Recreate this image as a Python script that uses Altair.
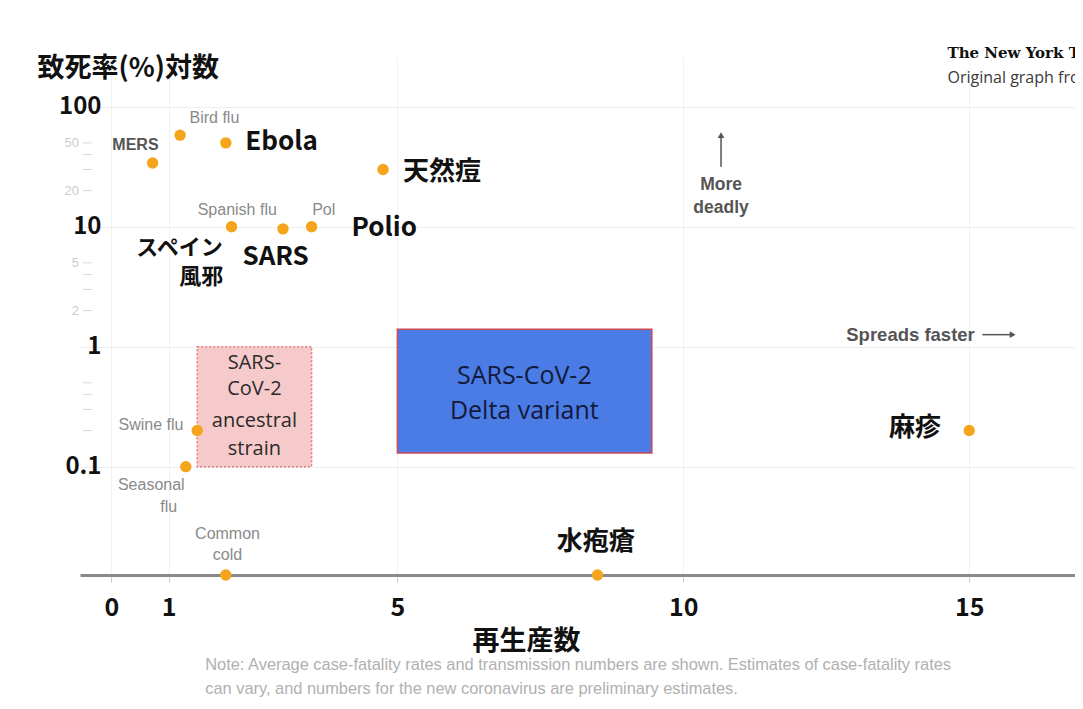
import altair as alt
import pandas as pd

# ---- data ----
diseases = ["MERS", "Bird flu", "Ebola", "Smallpox", "Spanish flu", "SARS", "Polio",
            "Swine flu", "Seasonal flu", "Common cold", "Chickenpox", "Measles"]
r0 = [0.72, 1.2, 2.0, 4.75, 2.1, 3.0, 3.5, 1.5, 1.3, 2.0, 8.5, 15.0]
cfr = [34, 58, 50, 30, 10, 9.6, 10, 0.2, 0.1, 0.0125, 0.0125, 0.2]

box_names = ["ancestral", "delta"]
box_r0_lo = [1.5, 5.0]
box_r0_hi = [3.5, 9.45]
box_cfr_lo = [0.1, 0.13]
box_cfr_hi = [1.0, 1.4]

x_ticks = [0, 1, 5, 10, 15]
y_major = [100, 10, 1, 0.1]
y_minor = [50, 40, 30, 20, 5, 4, 3, 2, 0.5, 0.4, 0.3, 0.2]
y_minor_labels = [50, 20, 5, 2]

X_DOMAIN = [-0.55, 16.85]
Y_DOMAIN = [0.0125, 260]

xs = alt.Scale(domain=X_DOMAIN, nice=False, zero=False)
ys = alt.Scale(type="log", domain=Y_DOMAIN, nice=False)

AX = alt.Axis(
    values=x_ticks, title="再生産数", titleFont="Noto Sans CJK JP", titleFontSize=27,
    titleFontWeight="bold", titleColor="#111", titleX=446, titleY=66, titleBaseline="middle",
    labelFont="Noto Sans CJK JP", labelFontSize=25, labelFontWeight="bold", labelColor="#111",
    labelPadding=13, tickSize=7, tickColor="#cccccc", tickWidth=1,
    domain=True, domainColor="#8a8a8a", domainWidth=3,
    grid=True, gridColor="#f2f2f2")
AY = alt.Axis(
    values=y_major, title="致死率(%)対数", titleFont="Noto Sans CJK JP", titleFontSize=27,
    titleFontWeight="bold", titleColor="#111", titleAngle=0, titleAlign="left",
    titleBaseline="middle", titleX=-43, titleY=11,
    labelFont="Noto Sans CJK JP", labelFontSize=24, labelFontWeight="bold", labelColor="#111",
    labelPadding=-21, ticks=False, domain=False, grid=True, gridColor="#eeeeee",
    labelExpr="datum.value >= 1 ? format(datum.value, 'd') : format(datum.value, '.1f')")


def X(field="x"):
    return alt.X(f"{field}:Q", scale=xs, axis=AX)


def Y(field="y"):
    return alt.Y(f"{field}:Q", scale=ys, axis=AY)


def text_layer(texts, xv, yv, **kw):
    df = pd.DataFrame({"t": texts, "x": xv, "y": yv})
    base = dict(baseline="middle")
    base.update(kw)
    return alt.Chart(df).mark_text(**base).encode(x=X(), y=Y(), text="t:N")


pts = pd.DataFrame({"name": diseases, "x": r0, "y": cfr})
boxes = pd.DataFrame({"name": box_names, "x": box_r0_lo, "x2": box_r0_hi,
                      "y": box_cfr_lo, "y2": box_cfr_hi})

# minor y ticks and labels (just inside the left edge, as in the original graph)
TICK_X0, TICK_X1, LAB_X = -0.5, -0.34, -0.55
minor_df = pd.DataFrame({"y": y_minor})
minor_df["x"] = TICK_X0
minor_df["x2"] = TICK_X1
minor_ticks = alt.Chart(minor_df).mark_rule(color="#dadada", strokeWidth=1).encode(
    x=X(), x2="x2:Q", y=Y())
minor_lab_df = pd.DataFrame({"y": y_minor_labels})
minor_lab_df["x"] = LAB_X
minor_lab = alt.Chart(minor_lab_df).mark_text(
    align="right", baseline="middle", dx=-1, fontSize=13, color="#cccccc", font="Liberation Sans").encode(
    x=X(), y=Y(), text=alt.Text("y:Q", format="d"))

# boxes
box_anc = alt.Chart(boxes[boxes.name == "ancestral"]).mark_rect(
    fill="#f6caca", stroke="#e07a7a", strokeDash=[2, 2], strokeWidth=1.5).encode(
    x=X("x"), x2="x2:Q", y=Y("y"), y2="y2:Q")
box_delta = alt.Chart(boxes[boxes.name == "delta"]).mark_rect(
    fill="#4b7be5", stroke="#cf4a55", strokeWidth=1.5).encode(
    x=X("x"), x2="x2:Q", y=Y("y"), y2="y2:Q")

anc_text = text_layer(["SARS-", "CoV-2", "ancestral", "strain"], [2.5] * 4,
                      [0.735, 0.447, 0.242, 0.141], align="center", font="Open Sans",
                      fontSize=20, color="#2a2a2a")
delta_text = text_layer(["SARS-CoV-2", "Delta variant"], [7.22, 7.22], [0.573, 0.293],
                        align="center", font="Open Sans", fontSize=25, color="#141a3a")

# points
points = alt.Chart(pts).mark_circle(size=130, color="#f5a51c", opacity=1).encode(x=X(), y=Y())

# small gray english labels
gray = dict(font="Liberation Sans", fontSize=16, color="#8a8a8a")
g_center = text_layer(["Bird flu", "Spanish flu", "Common", "cold"],
                      [1.8, 2.2, 2.03, 2.03], [81, 13.9, 0.0277, 0.0185], align="center", **gray)
g_left = text_layer(["Pol"], [3.51], [13.9], align="left", **gray)
g_right = text_layer(["Swine flu", "Seasonal", "flu"], [1.26, 1.28, 1.15],
                     [0.224, 0.071, 0.046], align="right", **gray)
mers = text_layer(["MERS"], [0.42], [48.2], align="center", font="Liberation Sans",
                  fontSize=16, fontWeight="bold", color="#555555")

# big japanese-overlay labels
big = dict(font="Noto Sans CJK JP", fontWeight="bold", color="#111111")
big_left = text_layer(["Ebola", "天然痘", "Polio", "SARS"], [2.34, 5.1, 4.2, 2.29],
                      [51, 28.7, 9.8, 5.6], align="left", fontSize=26, **big)
big_center2 = text_layer(["水疱瘡", "麻疹"], [8.47, 14.05], [0.0237, 0.211],
                         align="center", fontSize=26, **big)
big_center = text_layer(["スペイン", "風邪"], [1.19, 1.57], [6.7, 3.8],
                        align="center", fontSize=22, **big)

# direction annotations
ann = dict(font="Liberation Sans", fontWeight="bold", color="#555555", fontSize=17.5)
more = text_layer(["More", "deadly"], [10.66, 10.66], [22.4, 14.4], align="center", **ann)
spreads = text_layer(["Spreads faster"], [12.85], [1.26], align="left",
                     font="Liberation Sans", fontWeight="bold", color="#555555", fontSize=18.5)

up_arrow = alt.Chart(pd.DataFrame({"x": [10.66], "y": [31.6], "y2": [55]})).mark_rule(
    color="#555555", strokeWidth=1.5).encode(x=X(), y=Y(), y2="y2:Q")
up_head = alt.Chart(pd.DataFrame({"x": [10.66], "y": [58]})).mark_point(
    shape="triangle-up", filled=True, size=45, color="#555555", opacity=1).encode(x=X(), y=Y())
right_arrow = alt.Chart(pd.DataFrame({"x": [15.23], "x2": [15.72], "y": [1.26]})).mark_rule(
    color="#555555", strokeWidth=1.5).encode(x=X(), x2="x2:Q", y=Y())
right_head = alt.Chart(pd.DataFrame({"x": [15.76], "y": [1.26]})).mark_point(
    shape="triangle-right", filled=True, size=45, color="#555555", opacity=1).encode(x=X(), y=Y())

# NYT credit (cropped at the right edge in the original)
nyt = text_layer(["The New York Times"], [14.62], [282], align="left",
                 font="DejaVu Serif", fontSize=15, fontWeight="bold", color="#111111")
orig = text_layer(["Original graph from The New York Times"], [14.62], [174.6], align="left",
                  font="Open Sans", fontSize=16, color="#3a3a3a")

# note
note = text_layer(["Note: Average case-fatality rates and transmission numbers are shown. Estimates of case-fatality rates",
                   "can vary, and numbers for the new coronavirus are preliminary estimates."],
                  [1.64, 1.64], [0.00224, 0.00141], align="left",
                  font="Liberation Sans", fontSize=16.4, color="#b0b0b0")

chart = alt.layer(
    minor_ticks, minor_lab, box_anc, box_delta, anc_text, delta_text,
    points, g_center, g_left, g_right, mers, big_left, big_center, big_center2,
    more, spreads, up_arrow, up_head, right_arrow, right_head, nyt, orig, note
).properties(
    width=995, height=518,
    padding={"left": 72, "top": 49, "right": 0, "bottom": 122},
    autosize="none",
    background="white",
).configure_view(stroke=None)

chart.save("out.html", embed_options={"renderer": "svg", "actions": False})
